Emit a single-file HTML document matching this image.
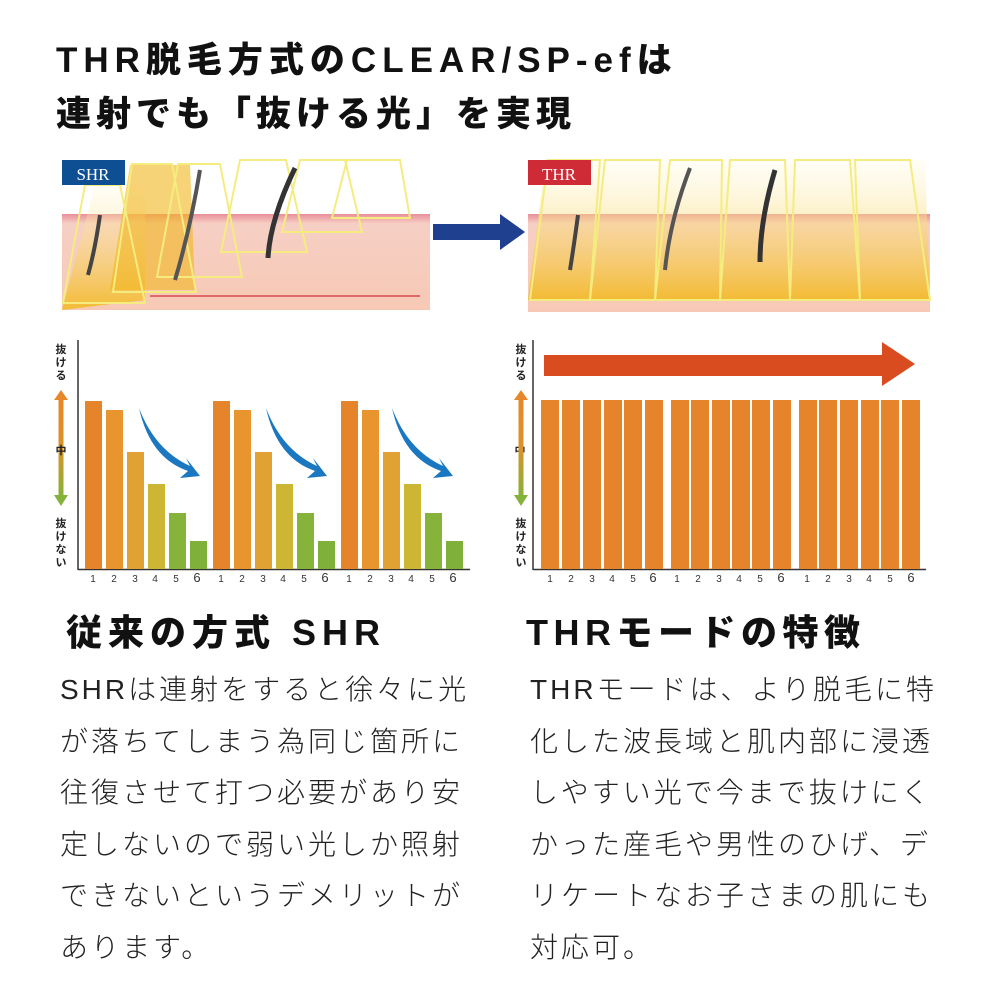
<!DOCTYPE html>
<html><head><meta charset="utf-8"><style>
body{margin:0;width:986px;height:986px;background:#fff;position:relative;overflow:hidden;font-family:"Liberation Sans","Noto Sans CJK JP",sans-serif;color:#111}
.t{position:absolute;white-space:nowrap}
.title{font-weight:900;font-size:35px;left:56px}
.h{font-weight:900;font-size:36px;top:604px}
.b{font-size:28px;line-height:51.5px;top:664px;color:#222;font-weight:300;letter-spacing:3px}
</style></head><body>
<div class="t title" style="top:32px;letter-spacing:6px">THR脱毛方式のCLEAR/SP-efは</div>
<div class="t title" style="top:86px;letter-spacing:5px">連射でも「抜ける光」を実現</div>

<svg width="986" height="600" style="position:absolute;left:0;top:0">
<defs>
<linearGradient id="sk" x1="0" y1="0" x2="0" y2="1"><stop offset="0" stop-color="#e88e98"/><stop offset="0.1" stop-color="#f6cfc4"/><stop offset="1" stop-color="#f7c9b5"/></linearGradient>
<linearGradient id="yl" x1="0" y1="0" x2="0" y2="1"><stop offset="0" stop-color="#fff8d0" stop-opacity="0.2"/><stop offset="1" stop-color="#f2b81c" stop-opacity="0.85"/></linearGradient>
<linearGradient id="ax" x1="0" y1="0" x2="0" y2="1"><stop offset="0" stop-color="#e6872a"/><stop offset="0.5" stop-color="#d9932a"/><stop offset="1" stop-color="#84b23a"/></linearGradient>
</defs>
<rect x="62" y="214" width="368" height="96" fill="url(#sk)"/>
<line x1="150" y1="296" x2="420" y2="296" stroke="#e06a6a" stroke-width="2"/>
<path d="M62 310 L95 185 L145 185 L145 300 Z" fill="url(#yl)"/>
<path d="M110 290 L130 165 L190 165 L195 290 Z" fill="#f1b61e" opacity="0.6"/>
<g fill="none" stroke="#f5ec80" stroke-width="2">
<path d="M63 303 L85 185 L120 185 L145 303 Z"/>
<path d="M113 292 L132 164 L172 164 L196 292 Z"/>
<path d="M157 277 L178 164 L220 164 L242 277 Z"/>
<path d="M221 252 L240 160 L286 160 L307 252 Z"/>
<path d="M282 232 L300 160 L345 160 L362 232 Z"/>
<path d="M332 218 L347 160 L400 160 L410 218 Z"/>
</g>
<rect x="62" y="160" width="63" height="25" fill="#0e4f93"/>
<text x="93" y="180" font-family="Liberation Serif" font-size="17" fill="#fff" text-anchor="middle">SHR</text>
<path d="M200 170 Q190 230 175 280" stroke="#555" stroke-width="4" fill="none"/>
<path d="M295 168 Q270 220 268 258" stroke="#333" stroke-width="5" fill="none"/>
<path d="M100 215 Q95 250 88 275" stroke="#444" stroke-width="4" fill="none"/>
<path d="M433 224 L500 224 L500 214 L525 232 L500 250 L500 240 L433 240 Z" fill="#1f3f8f"/>
<rect x="528" y="214" width="402" height="98" fill="url(#sk)"/>
<path d="M528 300 L545 160 L925 160 L930 300 Z" fill="url(#yl)"/>
<g fill="none" stroke="#f5ec80" stroke-width="2">
<path d="M530 300 L548 160 L600 160 L590 300 Z"/>
<path d="M590 300 L605 160 L660 160 L655 300 Z"/>
<path d="M655 300 L670 160 L722 160 L720 300 Z"/>
<path d="M720 300 L730 160 L785 160 L790 300 Z"/>
<path d="M790 300 L795 160 L850 160 L860 300 Z"/>
<path d="M860 300 L855 160 L910 160 L930 300 Z"/>
</g>
<path d="M578 215 Q574 245 570 270" stroke="#444" stroke-width="4" fill="none"/>
<path d="M690 168 Q670 220 665 270" stroke="#555" stroke-width="4" fill="none"/>
<path d="M775 170 Q760 220 760 262" stroke="#333" stroke-width="5" fill="none"/>
<rect x="528" y="160" width="63" height="25" fill="#cf2b36"/>
<text x="559" y="180" font-family="Liberation Serif" font-size="17" fill="#fff" text-anchor="middle">THR</text>

<line x1="78" y1="340" x2="78" y2="570" stroke="#333" stroke-width="1.5"/>
<line x1="78" y1="569.5" x2="470" y2="569.5" stroke="#333" stroke-width="1.5"/>
<g>
<rect x="85" y="401" width="17" height="168" fill="#e5842a"/>
<rect x="106" y="410" width="17" height="159" fill="#e9952f"/>
<rect x="127" y="452" width="17" height="117" fill="#e0a232"/>
<rect x="148" y="484" width="17" height="85" fill="#cdb634"/>
<rect x="169" y="513" width="17" height="56" fill="#86b43a"/>
<rect x="190" y="541" width="17" height="28" fill="#7fb03a"/>
</g>
<g transform="translate(128,0)">
<rect x="85" y="401" width="17" height="168" fill="#e5842a"/>
<rect x="106" y="410" width="17" height="159" fill="#e9952f"/>
<rect x="127" y="452" width="17" height="117" fill="#e0a232"/>
<rect x="148" y="484" width="17" height="85" fill="#cdb634"/>
<rect x="169" y="513" width="17" height="56" fill="#86b43a"/>
<rect x="190" y="541" width="17" height="28" fill="#7fb03a"/>
</g>
<g transform="translate(256,0)">
<rect x="85" y="401" width="17" height="168" fill="#e5842a"/>
<rect x="106" y="410" width="17" height="159" fill="#e9952f"/>
<rect x="127" y="452" width="17" height="117" fill="#e0a232"/>
<rect x="148" y="484" width="17" height="85" fill="#cdb634"/>
<rect x="169" y="513" width="17" height="56" fill="#86b43a"/>
<rect x="190" y="541" width="17" height="28" fill="#7fb03a"/>
</g>
<g fill="#1b78c0">
<path d="M139 408 Q155 450 190 466 L186 458 L200 476 L180 478 L188 471 Q150 458 139 408 Z"/>
<path transform="translate(127,0)" d="M139 408 Q155 450 190 466 L186 458 L200 476 L180 478 L188 471 Q150 458 139 408 Z"/>
<path transform="translate(253,0)" d="M139 408 Q155 450 190 466 L186 458 L200 476 L180 478 L188 471 Q150 458 139 408 Z"/>
</g>
<rect x="58.5" y="398" width="5" height="100" fill="url(#ax)"/>
<path d="M54 400 L61 390 L68 400 Z" fill="#e6872a"/>
<path d="M54 495 L61 506 L68 495 Z" fill="#84b23a"/>
<g font-size="11" font-weight="bold" fill="#222" text-anchor="middle" font-family="Noto Sans CJK JP">
<text x="61" y="353">抜</text><text x="61" y="366">け</text><text x="61" y="379">る</text>
<text x="61" y="454">中</text>
<text x="61" y="527">抜</text><text x="61" y="540">け</text><text x="61" y="553">な</text><text x="61" y="566">い</text>
<text x="521" y="353">抜</text><text x="521" y="366">け</text><text x="521" y="379">る</text>
<text x="520" y="454">中</text>
<text x="521" y="527">抜</text><text x="521" y="540">け</text><text x="521" y="553">な</text><text x="521" y="566">い</text>
</g>
<g font-size="10" fill="#333" text-anchor="middle">
<text x="93" y="582">1</text><text x="114" y="582">2</text><text x="135" y="582">3</text><text x="155" y="582">4</text><text x="176" y="582">5</text><text x="197" y="582" font-size="13">6</text>
<text x="221" y="582">1</text><text x="242" y="582">2</text><text x="263" y="582">3</text><text x="283" y="582">4</text><text x="304" y="582">5</text><text x="325" y="582" font-size="13">6</text>
<text x="349" y="582">1</text><text x="370" y="582">2</text><text x="391" y="582">3</text><text x="411" y="582">4</text><text x="432" y="582">5</text><text x="453" y="582" font-size="13">6</text>
</g>
<rect x="518.5" y="398" width="5" height="100" fill="url(#ax)"/>
<path d="M514 400 L521 390 L528 400 Z" fill="#e6872a"/>
<path d="M514 495 L521 506 L528 495 Z" fill="#84b23a"/>
<line x1="533" y1="340" x2="533" y2="570" stroke="#333" stroke-width="1.5"/>
<line x1="533" y1="569.5" x2="926" y2="569.5" stroke="#333" stroke-width="1.5"/>
<path d="M544 355 L882 355 L882 342 L915 364 L882 386 L882 376 L544 376 Z" fill="#d94c1f"/>
<g fill="#e5842a">
<rect x="541" y="400" width="18" height="169"/><rect x="562" y="400" width="18" height="169"/><rect x="583" y="400" width="18" height="169"/><rect x="604" y="400" width="18" height="169"/><rect x="624" y="400" width="18" height="169"/><rect x="645" y="400" width="18" height="169"/>
<rect x="671" y="400" width="18" height="169"/><rect x="691" y="400" width="18" height="169"/><rect x="712" y="400" width="18" height="169"/><rect x="732" y="400" width="18" height="169"/><rect x="752" y="400" width="18" height="169"/><rect x="773" y="400" width="18" height="169"/>
<rect x="799" y="400" width="18" height="169"/><rect x="819" y="400" width="18" height="169"/><rect x="840" y="400" width="18" height="169"/><rect x="861" y="400" width="18" height="169"/><rect x="881" y="400" width="18" height="169"/><rect x="902" y="400" width="18" height="169"/>
</g>
<g font-size="10" fill="#333" text-anchor="middle">
<text x="550" y="582">1</text><text x="571" y="582">2</text><text x="592" y="582">3</text><text x="612" y="582">4</text><text x="633" y="582">5</text><text x="653" y="582" font-size="13">6</text>
<text x="677" y="582">1</text><text x="698" y="582">2</text><text x="719" y="582">3</text><text x="739" y="582">4</text><text x="760" y="582">5</text><text x="781" y="582" font-size="13">6</text>
<text x="807" y="582">1</text><text x="828" y="582">2</text><text x="849" y="582">3</text><text x="869" y="582">4</text><text x="890" y="582">5</text><text x="911" y="582" font-size="13">6</text>
</g>
</svg>

<div class="t h" style="left:66px;letter-spacing:6px">従来の方式 SHR</div>
<div class="t h" style="left:526px;letter-spacing:5.5px">THRモードの特徴</div>
<div class="t b" style="left:60px">SHRは連射をすると徐々に光<br>が落ちてしまう為同じ箇所に<br>往復させて打つ必要があり安<br>定しないので弱い光しか照射<br>できないというデメリットが<br>あります。</div>
<div class="t b" style="left:530px">THRモードは、より脱毛に特<br>化した波長域と肌内部に浸透<br>しやすい光で今まで抜けにく<br>かった産毛や男性のひげ、デ<br>リケートなお子さまの肌にも<br>対応可。</div>
</body></html>
